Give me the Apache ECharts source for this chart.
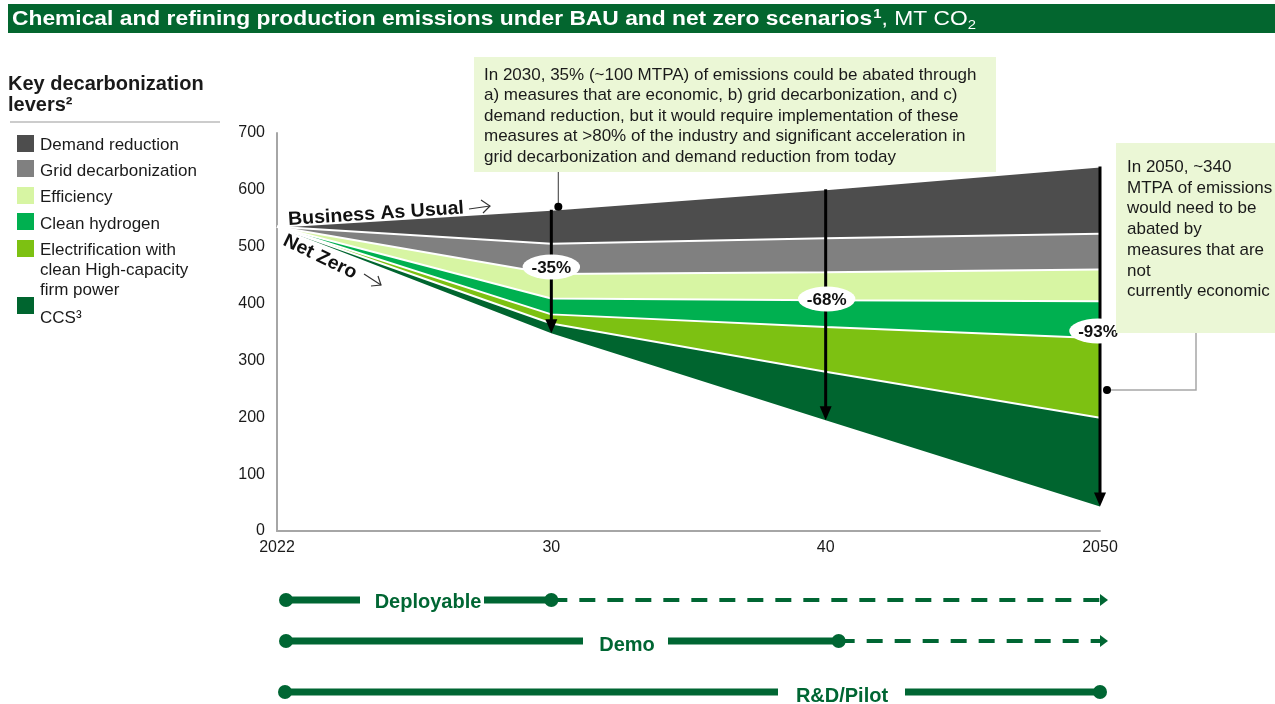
<!DOCTYPE html>
<html><head><meta charset="utf-8">
<script src="https://cdn.jsdelivr.net/npm/echarts@6/dist/echarts.min.js"></script>
<style>html,body{margin:0;padding:0;background:#fff}#c{width:1275px;height:704px}</style>
</head><body><div id="c"></div>
<script>
// ---- data ----
const years = ['2022', '30', '40', '2050'];
const netZero = [535, 348, 195, 43];
const ccs = [0, 17, 85, 156];
const electrification = [0, 16, 79, 140];
const cleanHydrogen = [0, 28, 47, 65];
const efficiency = [0, 43, 49, 56];
const gridDecarb = [0, 53, 60, 63];
const demandReduction = [0, 60, 86, 118];
const reductionLabels = ['', '-35%', '-68%', '-93%'];
const legendNames = ['Demand reduction', 'Grid decarbonization', 'Efficiency', 'Clean hydrogen',
  'Electrification with\nclean High-capacity\nfirm power', 'CCS³'];
const stages = ['Deployable', 'Demo', 'R&D/Pilot'];

const FONT = '"Liberation Sans", Arial, sans-serif';
const colors = {
  demand: '#4d4d4d', grid: '#808080', eff: '#d7f5a3', h2: '#00b050', elec: '#7dc112', ccs: '#00652f'
};
const legendColors = [colors.demand, colors.grid, colors.eff, colors.h2, colors.elec, colors.ccs];
const TLG = '#006633';

const chart = echarts.init(document.getElementById('c'));

function band(name, data, color) {
  return {
    name, type: 'line', stack: 'total', data, symbol: 'none', smooth: false,
    lineStyle: { color: '#ffffff', width: 2 },
    areaStyle: { color, opacity: 1 },
    emphasis: { disabled: true }, z: 2
  };
}

const option = {
  animation: false,
  grid: { left: 277, right: 175, top: 133, bottom: 173 },
  xAxis: {
    type: 'category', data: years, boundaryGap: false,
    axisLine: { lineStyle: { color: '#a6a6a6', width: 2 } },
    axisTick: { show: false },
    axisLabel: { fontSize: 16, color: '#1a1a1a', fontFamily: FONT, margin: 9 },
    splitLine: { show: false }
  },
  yAxis: {
    type: 'value', min: 0, max: 700, interval: 100,
    axisLine: { show: true, lineStyle: { color: '#a6a6a6', width: 2 } },
    axisTick: { show: false },
    axisLabel: { fontSize: 16, color: '#1a1a1a', fontFamily: FONT, margin: 12 },
    splitLine: { show: false }
  },
  series: [
    { name: 'Net Zero', type: 'line', stack: 'total', data: netZero, symbol: 'none',
      lineStyle: { width: 0 }, areaStyle: { opacity: 0 }, emphasis: { disabled: true } },
    band('CCS', ccs, colors.ccs),
    band('Electrification', electrification, colors.elec),
    band('Clean hydrogen', cleanHydrogen, colors.h2),
    band('Efficiency', efficiency, colors.eff),
    band('Grid decarbonization', gridDecarb, colors.grid),
    band('Demand reduction', demandReduction, colors.demand)
  ]
};
chart.setOption(option);

const bau = netZero.map((v, i) => v + ccs[i] + electrification[i] + cleanHydrogen[i] + efficiency[i] + gridDecarb[i] + demandReduction[i]);
const P = (i, v) => chart.convertToPixel({ gridIndex: 0 }, [i, v]);
const mctx = document.createElement('canvas').getContext('2d');
function tw(s, font) { mctx.font = font; return mctx.measureText(s).width; }

const g = [];
const Z = 100;
function tEl(x, y, text, o) {
  o = o || {};
  return { type: 'text', x, y, z: o.z || Z + 5, rotation: o.rotation || 0, scaleX: o.scaleX || 1, style: {
    text, fill: o.fill || '#1a1a1a', font: (o.weight || 'normal') + ' ' + (o.size || 16) + 'px ' + FONT,
    align: o.align || 'left', verticalAlign: o.va || 'middle', lineHeight: o.lh
  }};
}
function txt(x, y, text, o) { g.push(tEl(x, y, text, o)); }
function line(pts, color, width, o) {
  o = o || {};
  g.push({ type: 'polyline', z: o.z || Z, shape: { points: pts }, style: { stroke: color, lineWidth: width, lineDash: o.dash || null, fill: null } });
}
function dot(x, y, r, color, z) {
  g.push({ type: 'circle', z: z || Z + 2, shape: { cx: x, cy: y, r }, style: { fill: color } });
}
function tri(pts, color, z) {
  g.push({ type: 'polygon', z: z || Z + 2, shape: { points: pts }, style: { fill: color } });
}

// Title bar
g.push({ type: 'rect', z: Z, shape: { x: 8, y: 4, width: 1267, height: 29 }, style: { fill: '#03662f' } });
(function () {
  const p1 = 'Chemical and refining production emissions under BAU and net zero scenarios';
  const f1 = 'bold 20px ' + FONT, fs = 'bold 13px ' + FONT, f2 = 'normal 20px ' + FONT, fs2 = 'normal 13px ' + FONT;
  let x = 0; const kids = [];
  const add = (s, font, dy) => {
    kids.push({ type: 'text', x, y: dy, z: Z + 1, style: { text: s, font, fill: '#fff', align: 'left', verticalAlign: 'middle' } });
    x += tw(s, font);
  };
  add(p1, f1, 0); x += 1;
  add('1', fs, -5);
  add(', MT CO', f2, 0);
  add('2', fs2, 6);
  g.push({ type: 'group', x: 12, y: 19, scaleX: 1.14, z: Z + 1, children: kids });
})();

// Legend block
txt(8, 84, 'Key decarbonization', { weight: 'bold', size: 20 });
txt(8, 105, 'levers²', { weight: 'bold', size: 20 });
line([[10, 122], [220, 122]], '#cccccc', 2);
const legY = [144, 169, 196, 222, 249, 306];
const legTextY = [145, 171, 197, 224, 250, 318];
legendNames.forEach((n, k) => {
  g.push({ type: 'rect', z: Z, shape: { x: 17, y: legY[k] - 9, width: 17, height: 17 }, style: { fill: legendColors[k] } });
  if (n.indexOf('\n') >= 0) {
    txt(40, legTextY[k] - 10, n, { size: 17, va: 'top', lh: 20 });
  } else {
    txt(40, legTextY[k], n, { size: 17 });
  }
});

// Arrows + percentage labels
for (let i = 1; i < years.length; i++) {
  const top = P(i, bau[i]);
  const bot = P(i, netZero[i]);
  const x = top[0];
  line([[x, top[1]], [x, bot[1] - 12]], '#000', 3, { z: Z + 1 });
  tri([[x - 6, bot[1] - 14], [x + 6, bot[1] - 14], [x, bot[1]]], '#000', Z + 1);
}
const ellY = [0, 267, 299, 331];
for (let i = 1; i < years.length; i++) {
  const x = P(i, 0)[0] - (i === 3 ? 2 : 0) + (i === 2 ? 1 : 0);
  g.push({ type: 'circle', z: Z + 3, x: x, y: ellY[i], scaleX: 2.3, shape: { cx: 0, cy: 0, r: 12.5 }, style: { fill: '#fff' } });
  txt(x, ellY[i] + 1, reductionLabels[i], { align: 'center', size: 17, weight: 'bold', z: Z + 4, fill: '#111' });
}

// Scenario labels
txt(376, 214, 'Business As Usual', { weight: 'bold', size: 19, align: 'center', rotation: 0.066, fill: '#111', scaleX: 1.03 });
line([[469, 209], [490, 206]], '#333', 1.2);
line([[481, 200], [490, 206], [483, 213]], '#333', 1.2);
txt(320, 257, 'Net Zero', { weight: 'bold', size: 19, align: 'center', rotation: -0.45, fill: '#111', scaleX: 1.03 });
line([[364, 274], [381, 285]], '#333', 1.2);
line([[371, 286], [381, 285], [378, 276]], '#333', 1.2);

// Box 1
g.push({ type: 'rect', z: Z + 6, shape: { x: 474, y: 57, width: 522, height: 115 }, style: { fill: '#ebf7d6' } });
txt(484, 65, 'In 2030, 35% (~100 MTPA) of emissions could be abated through\na) measures that are economic, b) grid decarbonization, and c)\ndemand reduction, but it would require implementation of these\nmeasures at >80% of the industry and significant acceleration in\ngrid decarbonization and demand reduction from today',
  { size: 17, va: 'top', lh: 20.5, z: Z + 7 });
const b30 = P(1, bau[1]);
line([[b30[0] + 7, 172], [b30[0] + 7, b30[1] - 3]], '#555', 1.2, { z: Z + 2 });
dot(b30[0] + 7, b30[1] - 3, 4, '#000', Z + 3);

// Box 2
g.push({ type: 'rect', z: Z + 6, shape: { x: 1116, y: 143, width: 159, height: 190 }, style: { fill: '#ebf7d6' } });
txt(1127, 157, 'In 2050, ~340\nMTPA of emissions\nwould need to be\nabated by\nmeasures that are\nnot\ncurrently economic',
  { size: 17, va: 'top', lh: 20.7, z: Z + 7 });
line([[1196, 333], [1196, 390], [1107, 390]], '#a6a6a6', 1.5, { z: Z + 2 });
dot(1107, 390, 4, '#000', Z + 3);

// Timeline
const tx = years.map((y, i) => P(i, 0)[0]);
const L = tx[0] + 9, R = tx[3];
// Deployable
const r1 = 600;
dot(L, r1, 7, TLG);
line([[L, r1], [360, r1]], TLG, 7);
txt(428, r1 + 2, stages[0], { weight: 'bold', size: 20, align: 'center', fill: TLG });
line([[484, r1], [tx[1], r1]], TLG, 7);
dot(tx[1], r1, 7, TLG);
line([[tx[1], r1], [R, r1]], TLG, 4, { dash: [16, 12] });
tri([[R, r1 - 6], [R, r1 + 6], [R + 8, r1]], TLG);
// Demo
const r2 = 641;
dot(L, r2, 7, TLG);
line([[L, r2], [583, r2]], TLG, 7);
txt(627, r2 + 4, stages[1], { weight: 'bold', size: 20, align: 'center', fill: TLG });
line([[668, r2], [tx[2] + 13, r2]], TLG, 7);
dot(tx[2] + 13, r2, 7, TLG);
line([[tx[2] + 13, r2], [R, r2]], TLG, 4, { dash: [16, 12] });
tri([[R, r2 - 6], [R, r2 + 6], [R + 8, r2]], TLG);
// R&D
const r3 = 692;
dot(L - 1, r3, 7, TLG);
line([[L - 1, r3], [778, r3]], TLG, 7);
txt(842, r3 + 4, stages[2], { weight: 'bold', size: 20, align: 'center', fill: TLG });
line([[905, r3], [R, r3]], TLG, 7);
dot(R, r3, 7, TLG);

chart.setOption({ graphic: { elements: g } });
</script></body></html>
